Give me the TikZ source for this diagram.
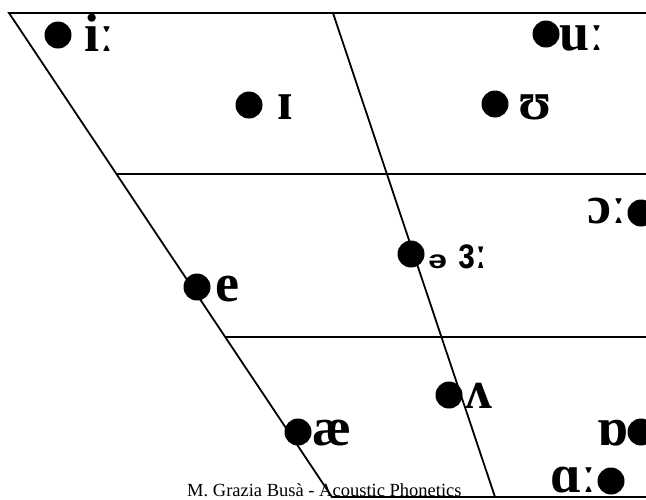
\documentclass[tikz,border=0pt]{standalone}
\usepackage{fontspec}
\usepackage{graphicx}
\setmainfont{Liberation Serif}
\newfontfamily\ipaserif{Liberation Serif}
\newfontfamily\ipasans{Liberation Sans}
\usetikzlibrary{calc}
\tikzset{
  vdot/.style={circle, fill=black, inner sep=0pt, minimum size=27pt},
  ipa/.style={font=\ipaserif\bfseries\fontsize{54}{54}\selectfont, inner sep=0pt, text depth=0pt},
  ipas/.style={font=\ipasans\bfseries\fontsize{34}{34}\selectfont, inner sep=0pt},
  frame/.style={line width=1.8pt, black},
  footer/.style={font=\fontsize{18.5}{20}\selectfont, inner sep=0pt}
}
\begin{document}
\begin{tikzpicture}[x=1pt,y=-1pt]
\useasboundingbox (0,0) rectangle (646,499);
\clip (0,0) rectangle (646,499);
% frame coordinates
\coordinate (TL) at (9,13);
\coordinate (TM) at (333,13);
\coordinate (TR) at (646,13);
\coordinate (BL) at (332,497);
\coordinate (BM) at (495,497);
\coordinate (BR) at (646,497);
\coordinate (L1) at ($(TL)!0.3326!(BL)$);
\coordinate (L2) at ($(TL)!0.6694!(BL)$);
\coordinate (R1) at (646,174);
\coordinate (R2) at (646,337);
% footer
\node[footer, anchor=base west] (foot) at (187,496) {M. Grazia Busà - Acoustic Phonetics};
% frame
\draw[frame] (TR) -- (TL) -- (BL) -- (BR);
\draw[frame] (TM) -- (BM);
\draw[frame] (L1) -- (R1);
\draw[frame] (L2) -- (R2);
% dots
\node[vdot] (d-i) at (58,35) {};
\node[vdot] (d-u) at (546,34) {};
\node[vdot] (d-I) at (249,105) {};
\node[vdot] (d-U) at (495,104) {};
\node[vdot] (d-o) at (641,213) {};
\node[vdot] (d-schwa) at (411,254) {};
\node[vdot] (d-e) at (197,287) {};
\node[vdot] (d-v) at (449,395) {};
\node[vdot] (d-ae) at (298,432) {};
\node[vdot] (d-Q) at (641,432) {};
\node[vdot] (d-A) at (611,481) {};
% labels
\node[ipa, anchor=base west] (t-i) at (84,51) {iː};
\node[ipa, anchor=base west] (t-u) at (559,50) {uː};
\node[ipa, anchor=base west] (t-I) at (277,119) {ɪ};
\node[ipa, anchor=base west] (t-U) at (518,119) {ʊ};
\node[ipa, anchor=base east] (t-o) at (627,223) {ɔː};
\node[ipas, anchor=base west] (t-schwa) at (428,268)
  {\scalebox{1}[0.75]{ə}\hspace{11pt}\scalebox{1}[1.3]{ɜ}\scalebox{1}[1.2]{ː}};
\node[ipa, anchor=base west] (t-e) at (215,301) {e};
\node[ipa, anchor=base west] (t-v) at (465,408) {ʌ};
\node[ipa, anchor=base west] (t-ae) at (312,445) {æ};
\node[ipa, anchor=base east] (t-Q) at (629,445) {ɒ};
\node[ipa, anchor=base east] (t-A) at (597,492) {ɑː};
\end{tikzpicture}
\end{document}
